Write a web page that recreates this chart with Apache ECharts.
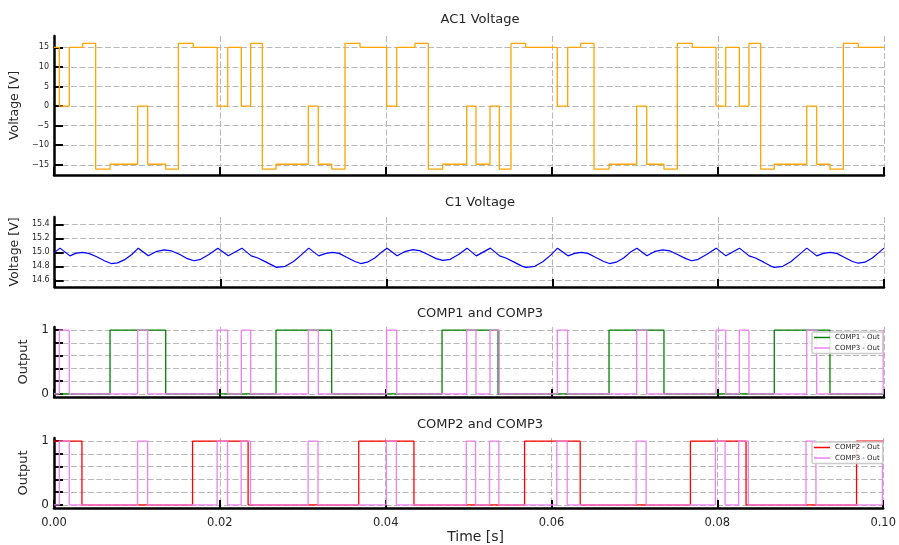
<!DOCTYPE html>
<html>
<head>
<meta charset="utf-8">
<script src="https://cdn.jsdelivr.net/npm/echarts@6/dist/echarts.min.js"></script>
<style>
  html, body { margin: 0; padding: 0; background: #ffffff; }
  #chart { width: 899px; height: 545px; }
</style>
</head>
<body>
<div id="chart"></div>
<script>
// Time axis (seconds)
const timeTicks = [0, 0.02, 0.04, 0.06, 0.08, 0.1];

// AC1 voltage: [time, value held from that time]
const ac1Steps = [
  [0, 15], [0.00064, 0], [0.00184, 15], [0.00346, 16], [0.00502, -16.1],
  [0.00675, -14.85], [0.01008, 0], [0.01129, -14.85], [0.01346, -16.1], [0.01498, 16],
  [0.01678, 15], [0.01967, 0], [0.02093, 15], [0.02257, 0], [0.02370, 16],
  [0.02510, -16.1], [0.02675, -14.85], [0.03064, 0], [0.03184, -14.85], [0.03346, -16.1],
  [0.03506, 16], [0.03687, 15], [0.04008, 0], [0.04129, 15], [0.04349, 16],
  [0.04510, -16.1], [0.04683, -14.85], [0.04972, 0], [0.05084, -14.85], [0.05253, 0],
  [0.05365, -16.1], [0.05506, 16], [0.05683, 15], [0.06064, 0], [0.06189, 15],
  [0.06346, 16], [0.06506, -16.1], [0.06687, -14.85], [0.07020, 0], [0.07141, -14.85],
  [0.07349, -16.1], [0.07510, 16], [0.07690, 15], [0.07976, 0], [0.08093, 15],
  [0.08257, 0], [0.08373, 16], [0.08514, -16.1], [0.08678, -14.85], [0.09069, 0],
  [0.09189, -14.85], [0.09349, -16.1], [0.09510, 16], [0.09690, 15], [0.1, 15]
];

// C1 voltage trace: [time, volts]
const c1Trace = [
  [0, 15.00], [0.00064, 15.06], [0.00184, 14.95], [0.0025, 14.985], [0.0033, 15.00],
  [0.0041, 14.985], [0.0050, 14.94], [0.0060, 14.88], [0.0068, 14.84], [0.0076, 14.85],
  [0.0085, 14.90], [0.0093, 14.97], [0.01008, 15.06], [0.01129, 14.95], [0.0122, 15.01],
  [0.0132, 15.035], [0.0141, 15.02], [0.0151, 14.97], [0.0160, 14.91], [0.0168, 14.88],
  [0.0176, 14.90], [0.0186, 14.97], [0.01967, 15.06], [0.02093, 14.95], [0.02257, 15.06],
  [0.02370, 14.95], [0.0245, 14.92], [0.0255, 14.86], [0.0265, 14.80], [0.02675, 14.785],
  [0.0278, 14.80], [0.0288, 14.87], [0.0297, 14.96], [0.03064, 15.06], [0.03184, 14.95],
  [0.0327, 14.985], [0.0335, 15.00], [0.0343, 14.985], [0.0352, 14.93], [0.0362, 14.87],
  [0.0369, 14.84], [0.0377, 14.86], [0.0386, 14.92], [0.0394, 15.00], [0.04008, 15.06],
  [0.04129, 14.95], [0.0422, 15.01], [0.0432, 15.04], [0.0441, 15.02], [0.0450, 14.97],
  [0.0460, 14.91], [0.0468, 14.885], [0.0477, 14.90], [0.0487, 14.97], [0.04972, 15.06],
  [0.05084, 14.95], [0.05253, 15.06], [0.05365, 14.95], [0.0544, 14.92], [0.0554, 14.86],
  [0.0564, 14.80], [0.05683, 14.785], [0.0579, 14.80], [0.0589, 14.87], [0.0598, 14.96],
  [0.06064, 15.06], [0.06189, 14.95], [0.0627, 14.985], [0.0635, 15.00], [0.0643, 14.985],
  [0.0652, 14.93], [0.0662, 14.87], [0.0669, 14.84], [0.0677, 14.86], [0.0686, 14.92],
  [0.0694, 15.00], [0.07020, 15.06], [0.07141, 14.95], [0.0723, 15.01], [0.0733, 15.035],
  [0.0742, 15.02], [0.0751, 14.97], [0.0761, 14.91], [0.0768, 14.88], [0.0776, 14.90],
  [0.0786, 14.97], [0.07976, 15.06], [0.08093, 14.95], [0.08257, 15.06], [0.08373, 14.95],
  [0.0845, 14.92], [0.0855, 14.86], [0.0864, 14.80], [0.08678, 14.785], [0.0878, 14.80],
  [0.0888, 14.87], [0.0897, 14.96], [0.09069, 15.06], [0.09189, 14.95], [0.0927, 14.985],
  [0.0935, 15.00], [0.0943, 14.985], [0.0952, 14.93], [0.0962, 14.87], [0.0969, 14.845],
  [0.0977, 14.86], [0.0986, 14.92], [0.0994, 15.00], [0.1, 15.06]
];

// Comparator outputs: [time, state held from that time]
const comp1Steps = [
  [0, 0], [0.00675, 1], [0.01346, 0], [0.02675, 1], [0.03346, 0], [0.04675, 1],
  [0.05350, 0], [0.06687, 1], [0.07349, 0], [0.08678, 1], [0.09349, 0], [0.1, 0]
];
const comp2Steps = [
  [0, 1], [0.00337, 0], [0.01671, 1], [0.02341, 0], [0.03675, 1], [0.04341, 0],
  [0.05675, 1], [0.06346, 0], [0.07675, 1], [0.08346, 0], [0.09679, 1], [0.1, 1]
];
const comp3Steps = [
  [0, 0], [0.00064, 1], [0.00184, 0], [0.01008, 1], [0.01129, 0], [0.01967, 1],
  [0.02093, 0], [0.02257, 1], [0.02370, 0], [0.03064, 1], [0.03184, 0], [0.04008, 1],
  [0.04129, 0], [0.04972, 1], [0.05084, 0], [0.05253, 1], [0.05365, 0], [0.06064, 1],
  [0.06189, 0], [0.07020, 1], [0.07141, 0], [0.07976, 1], [0.08093, 0], [0.08257, 1],
  [0.08373, 0], [0.09069, 1], [0.09189, 0], [0.0999, 1], [0.1, 1]
];

// Y tick values
const ac1Ticks = [-15, -10, -5, 0, 5, 10, 15];
const c1Ticks = [14.6, 14.8, 15.0, 15.2, 15.4];
const outputTicks = [0, 0.2, 0.4, 0.6, 0.8, 1];
const outputLabels = [0, 1];

const FONT = 'DejaVu Sans';
const TEXT = '#262626';
const gridDash = { color: '#b8b8b8', width: 1.1, type: [6, 2.5] };

const grids = [
  { left: 54, width: 830, top: 36, height: 139 },
  { left: 54, width: 830, top: 217, height: 70 },
  { left: 54, width: 830, top: 327, height: 70 },
  { left: 54, width: 830, top: 438, height: 70 }
];

function xAxisFor(i) {
  const last = i === 3;
  return {
    type: 'value', gridIndex: i, min: 0, max: 0.1, interval: 0.02,
    axisLine: { onZero: false, lineStyle: { color: '#000', width: 2.5 } },
    axisTick: { inside: true, length: 8, lineStyle: { color: '#000', width: 2 } },
    axisLabel: {
      show: last, margin: 9, fontFamily: FONT, fontSize: 11.5, color: TEXT,
      formatter: v => v.toFixed(2)
    },
    splitLine: { show: true, lineStyle: gridDash },
    name: last ? 'Time [s]' : '',
    nameLocation: 'middle', nameGap: 22,
    nameTextStyle: { fontFamily: FONT, fontSize: 14, color: TEXT, padding: [0, 0, 0, 14] }
  };
}

function yAxisFor(i, min, max, ticks, labels, fmt, labelSize, labelPad, name, nameGap, nameSize) {
  return {
    type: 'value', gridIndex: i, min: min, max: max,
    axisLine: { show: true, onZero: false, lineStyle: { color: '#000', width: 2.5 } },
    axisTick: { show: true, inside: true, length: 9, customValues: ticks,
      lineStyle: { color: '#000', width: 2 } },
    axisLabel: { customValues: labels, margin: 5, fontFamily: FONT, fontSize: labelSize,
      color: TEXT, formatter: fmt, padding: labelPad },
    splitLine: { show: true, lineStyle: gridDash },
    name: name, nameLocation: 'middle', nameGap: nameGap,
    nameTextStyle: { fontFamily: FONT, fontSize: nameSize, color: TEXT }
  };
}

const signed = v => (v < 0 ? '\u2212' + Math.abs(v) : String(v));

function stepSeries(name, data, idx, color, z) {
  return {
    name: name, type: 'line', step: 'end', data: data,
    xAxisIndex: idx, yAxisIndex: idx, showSymbol: false, symbol: 'none',
    color: color, itemStyle: { color: color },
    lineStyle: { color: color, width: 1.3 }, z: z, silent: true
  };
}

const legendBase = {
  orient: 'vertical', left: 812, icon: 'rect', itemWidth: 16, itemHeight: 1.5,
  itemGap: 1.5, padding: [1, 3, 1, 2],
  backgroundColor: 'rgba(255,255,255,0.85)', borderColor: '#cccccc', borderWidth: 1.5,
  borderRadius: 2, selectedMode: false,
  textStyle: { fontFamily: FONT, fontSize: 7, color: TEXT, lineHeight: 9 }
};

const titleStyle = { fontFamily: FONT, fontSize: 13, fontWeight: 'normal', color: TEXT };

const option = {
  animation: false,
  backgroundColor: '#ffffff',
  title: [
    { text: 'AC1 Voltage', left: 475, top: 8, textAlign: 'center', textStyle: titleStyle },
    { text: 'C1 Voltage', left: 475, top: 191, textAlign: 'center', textStyle: titleStyle },
    { text: 'COMP1 and COMP3', left: 475, top: 302, textAlign: 'center', textStyle: titleStyle },
    { text: 'COMP2 and COMP3', left: 475, top: 413, textAlign: 'center', textStyle: titleStyle }
  ],
  grid: grids,
  xAxis: [0, 1, 2, 3].map(xAxisFor),
  yAxis: [
    yAxisFor(0, -17.6, 17.9, ac1Ticks, ac1Ticks, signed, 8, 0, 'Voltage [V]', 25, 12.5),
    yAxisFor(1, 14.505, 15.505, c1Ticks, c1Ticks, v => v.toFixed(1), 8, 0, 'Voltage [V]', 24, 12.5),
    yAxisFor(2, -0.05, 1.05, outputTicks, outputLabels, v => String(v), 12, [6, 0, 0, 0], 'Output', 20, 13),
    yAxisFor(3, -0.05, 1.05, outputTicks, outputLabels, v => String(v), 12, [6, 0, 0, 0], 'Output', 20, 13)
  ],
  legend: [
    Object.assign({}, legendBase, { top: 332, data: ['COMP1 - Out', 'COMP3 - Out'] }),
    Object.assign({}, legendBase, { top: 442, data: ['COMP2 - Out', 'COMP3 - Out'] })
  ],
  series: [
    stepSeries('AC1 Voltage', ac1Steps, 0, '#ffa500', 2),
    {
      name: 'C1 Voltage', type: 'line', data: c1Trace, xAxisIndex: 1, yAxisIndex: 1,
      showSymbol: false, symbol: 'none', color: '#0000ff',
      lineStyle: { color: '#0000ff', width: 1.2 }, z: 2, silent: true
    },
    stepSeries('COMP1 - Out', comp1Steps, 2, '#008000', 2),
    stepSeries('COMP3 - Out', comp3Steps, 2, '#ee82ee', 3),
    stepSeries('COMP2 - Out', comp2Steps, 3, '#ff0000', 2),
    stepSeries('COMP3 - Out', comp3Steps, 3, '#ee82ee', 3)
  ]
};

const chart = echarts.init(document.getElementById('chart'), null, { renderer: 'canvas' });
chart.setOption(option);
</script>
</body>
</html>
